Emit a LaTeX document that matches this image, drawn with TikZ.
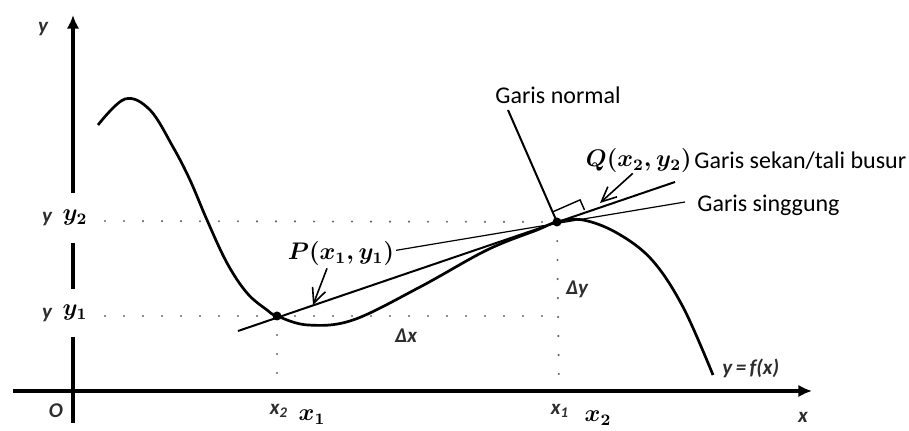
\documentclass[tikz,border=0pt]{standalone}
\usepackage{amsmath,amssymb}
\usepackage{fontspec}
\setmainfont{Carlito}
\usepackage{tikz}
\usetikzlibrary{arrows.meta,positioning,calc}
\definecolor{labgray}{RGB}{45,45,45}
\definecolor{dotgray}{RGB}{105,105,105}

\begin{document}
\begin{tikzpicture}[x=0.5pt,y=-0.5pt,
  axis/.style={line width=1.6pt,-{Latex[length=2.4mm,width=2.2mm]}},
  curve/.style={line width=1.35pt},
  guide/.style={dotgray,line width=1.2pt,line cap=round,dash pattern=on 0pt off 9.5pt},
  small/.style={font=\bfseries\itshape\fontsize{10.5}{12}\selectfont,text=labgray,inner sep=1pt},
  txt/.style={font=\fontsize{12}{14}\selectfont,inner sep=0pt},
  mlab/.style={fill=white,inner sep=1pt,font=\fontsize{12}{14}\selectfont},
  arr/.style={-{Straight Barb[length=2.6mm,width=2.4mm]},line width=0.8pt}]
\useasboundingbox (0,0) rectangle (909,431);
\coordinate (P) at (277,316);
\coordinate (Q) at (557,222);
\coordinate (xl) at (13,391);
\coordinate (xr) at (812,391);
\coordinate (yb) at (73,423);
\coordinate (yt) at (73,15);
% axes
\draw[axis] (xl) -- (xr);
\draw[axis] (yb) -- (yt);
\node[small] (ylab) at (43,29) {y};
\node[small] (olab) at (56,411) {O};
\node[small] (xlab) at (803,417) {x};
% dotted guides
\draw[guide] (105,221) -- (Q);
\draw[guide] (105,316) -- (559,316);
\draw[guide] (P) -- (277,391);
\draw[guide] (Q) -- (559,391);
% the curve y = f(x)
\draw[curve] plot[smooth,tension=0.6] coordinates {(98,125) (125,99) (150,110) (173,147) (190,180)
  (207,220) (227,263) (247,293) (267,310) (277,316) (308,325) (353,320) (420,287) (487,250)
  (537,230) (557,222) (583,220) (617,233) (652,260) (683,307) (713,375)};
% secant, tangent, normal
\coordinate (secL) at (238,331);
\coordinate (secR) at (675,182);
\coordinate (tgL) at (392,251);
\coordinate (tgR) at (685,202);
\coordinate (nTop) at (508,110);
\draw[line width=1pt] (secL) -- (secR);
\draw[line width=0.6pt] (tgL) -- (tgR);
\draw[line width=1pt] (nTop) -- (Q);
\coordinate (ra1) at ($(Q)!5.5pt!(nTop)$);
\coordinate (ra2) at ($(ra1)!15pt!90:(Q)$);
\coordinate (ra3) at ($(Q)!15pt!-90:(ra1)$);
\draw[line width=0.7pt] (ra1) -- (ra2) -- (ra3);
\fill (P) circle (4.5);
\fill (Q) circle (4.5);
% labels
\node[small] (y2s) at (47,219) {y};
\node[small] (y1s) at (47,315) {y};
\node[mlab,minimum width=22pt,minimum height=25pt] (y2lab) at (75,218) {$\boldsymbol{y_2}$};
\node[mlab,minimum width=22pt,minimum height=24pt] (y1lab) at (75,313) {$\boldsymbol{y_1}$};
\node[small] (x2s) at (279,411) {x\textsubscript{2}};
\node[small] (x1s) at (560,411) {x\textsubscript{1}};
\node[mlab,minimum width=25pt,minimum height=15pt] (x1lab) at (312,417) {$\boldsymbol{x_1}$};
\node[mlab] (x2lab) at (598,418) {$\boldsymbol{x_2}$};
\node[small] (dx) at (406,336) {Δx};
\node[small] (dy) at (577,289) {Δy};
\node[small,anchor=west] (flab) at (720,368) {y\,=\,f(x)};
\node[mlab] (plab) at (341,254) {$\boldsymbol{P(x_1,y_1)}$};
\node[mlab,fill=none,anchor=east] (qlab) at (694,161) {$\boldsymbol{Q(x_2,y_2)}$};
\node[txt,right=0pt of qlab] (sekan) {Garis sekan/tali busur};
\node[txt,anchor=west] (singgung) at (697,205) {Garis singgung};
\node[txt] (normal) at (558,95) {Garis normal};
\coordinate (pTip) at (313,305);
\coordinate (qTip) at (600,203);
\draw[arr] ([xshift=-7pt]plab.south) -- (pTip);
\draw[arr] ([xshift=-3pt,yshift=1pt]qlab.south) -- (qTip);
\end{tikzpicture}
\end{document}
